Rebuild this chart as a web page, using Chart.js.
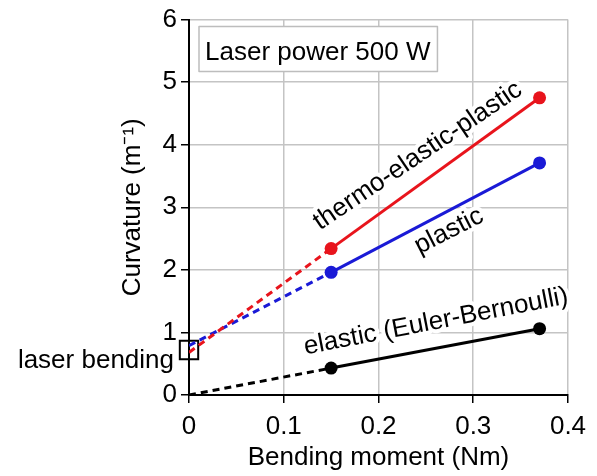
<html lang="en">
<head>
  <meta charset="utf-8">
  <title>Curvature vs bending moment</title>
  <style>
    body { padding: 0; margin: 0; background: #fff; }
    #wrap { width: 597px; height: 476px; }
  </style>
  <script src="https://cdn.jsdelivr.net/npm/chart.js@4.4.1/dist/chart.umd.min.js"></script>
</head>
<body>
  <div id="wrap"><canvas id="chart" width="597" height="476"></canvas></div>
  <script>
    // values: [bending moment (Nm), curvature (1/m)]
    const thermoSolid = [[0.15, 2.34], [0.37, 4.75]];
    const thermoDash  = [[0, 0.68], [0.15, 2.34]];
    const plasticSolid = [[0.15, 1.96], [0.37, 3.71]];
    const plasticDash  = [[0, 0.79], [0.15, 1.96]];
    const elasticSolid = [[0.15, 0.43], [0.37, 1.06]];
    const elasticDash  = [[0, 0], [0.15, 0.43]];
    const laserBending = [[0, 0.72]];

    const xTicks = [0, 0.1, 0.2, 0.3, 0.4];
    const yTicks = [0, 1, 2, 3, 4, 5, 6];

    // text labels placed in data coordinates, angle in degrees
    const notes = [
      { text: 'thermo-elastic-plastic', x: 0.2415, y: 3.82, angle: -34 },
      { text: 'plastic', x: 0.2744, y: 2.62, angle: -27 },
      { text: 'elastic (Euler-Bernoulli)', x: 0.2607, y: 1.17, angle: -11 }
    ];

    const pts = arr => arr.map(p => ({ x: p[0], y: p[1] }));
    const FONT = '"Liberation Sans", Arial, sans-serif';
    const SIZE = 26;

    function solid(data, color) {
      return { data: pts(data), borderColor: color, backgroundColor: color, borderWidth: 3,
        pointRadius: 6.5, pointHoverRadius: 6.5, pointBorderWidth: 0 };
    }
    function dashed(data, color) {
      return { data: pts(data), borderColor: color, borderWidth: 3, borderDash: [7, 5],
        pointRadius: 0, pointHoverRadius: 0 };
    }

    const notesPlugin = {
      id: 'notes',
      beforeDatasetsDraw(chart) {
        const ctx = chart.ctx;
        const xs = chart.scales.x, ys = chart.scales.y;
        ctx.save();
        ctx.font = SIZE + 'px ' + FONT;
        ctx.textAlign = 'center';
        ctx.textBaseline = 'middle';
        ctx.lineJoin = 'round';
        notes.forEach(n => {
          ctx.save();
          ctx.translate(xs.getPixelForValue(n.x), ys.getPixelForValue(n.y));
          ctx.rotate(n.angle * Math.PI / 180);
          ctx.strokeStyle = '#fff';
          ctx.lineWidth = 8;
          ctx.strokeText(n.text, 0, 0);
          ctx.fillStyle = '#000';
          ctx.fillText(n.text, 0, 0);
          ctx.restore();
        });

        // boxed caption in the upper left
        ctx.textAlign = 'left';
        ctx.textBaseline = 'alphabetic';
        const bx = xs.getPixelForValue(0) + 10, by = ys.getPixelForValue(6) + 7;
        const label = 'Laser power 500 W';
        const w = ctx.measureText(label).width + 13;
        ctx.fillStyle = '#fff';
        ctx.fillRect(bx, by, w, 45);
        ctx.strokeStyle = '#bdbdbd';
        ctx.lineWidth = 1.5;
        ctx.strokeRect(bx, by, w, 45);
        ctx.fillStyle = '#000';
        ctx.fillText(label, bx + 6, by + 33);

        // label beside the square marker
        ctx.textAlign = 'right';
        ctx.fillText('laser bending', xs.getPixelForValue(0) - 15, ys.getPixelForValue(0) - 27);
        ctx.restore();
      }
    };

    new Chart(document.getElementById('chart'), {
      type: 'scatter',
      data: {
        datasets: [
          dashed(thermoDash, '#e8141c'),
          dashed(plasticDash, '#1a1ad6'),
          dashed(elasticDash, '#000'),
          solid(thermoSolid, '#e8141c'),
          solid(plasticSolid, '#1a1ad6'),
          solid(elasticSolid, '#000'),
          { data: pts(laserBending), pointStyle: 'rect', pointRadius: 13, pointHoverRadius: 13,
            borderColor: '#000', borderWidth: 2, backgroundColor: 'rgba(0,0,0,0)', clip: false }
        ].map(d => Object.assign({ showLine: true }, d))
      },
      options: {
        responsive: false,
        animation: false,
        events: [],
        layout: { padding: { top: 15, right: 29, left: 0, bottom: 0 } },
        plugins: { legend: { display: false }, tooltip: { enabled: false } },
        scales: {
          x: {
            type: 'linear', min: 0, max: 0.4,
            afterBuildTicks: s => { s.ticks = xTicks.map(v => ({ value: v })); },
            afterFit: s => { s.height = 81; },
            grid: { color: '#c4c4c4', lineWidth: 1.5, tickColor: '#000', tickLength: 8 },
            border: { color: '#000', width: 2 },
            ticks: { color: '#000', font: { family: FONT, size: SIZE }, padding: 8,
              callback: v => String(v) },
            title: { display: true, text: 'Bending moment (Nm)', color: '#000',
              font: { family: FONT, size: SIZE }, padding: { top: 0, bottom: 3 } }
          },
          y: {
            type: 'linear', min: 0, max: 6,
            afterBuildTicks: s => { s.ticks = yTicks.map(v => ({ value: v })); },
            afterFit: s => { s.width = 189; },
            grid: { color: '#c4c4c4', lineWidth: 1.5, tickColor: '#000', tickLength: 8 },
            border: { color: '#000', width: 2 },
            ticks: { color: '#000', font: { family: FONT, size: SIZE }, padding: 4 },
            title: { display: true, text: 'Curvature (m⁻¹)', color: '#000',
              font: { family: FONT, size: SIZE }, padding: { top: 117, bottom: 0 } }
          }
        }
      },
      plugins: [notesPlugin]
    });
  </script>
</body>
</html>
